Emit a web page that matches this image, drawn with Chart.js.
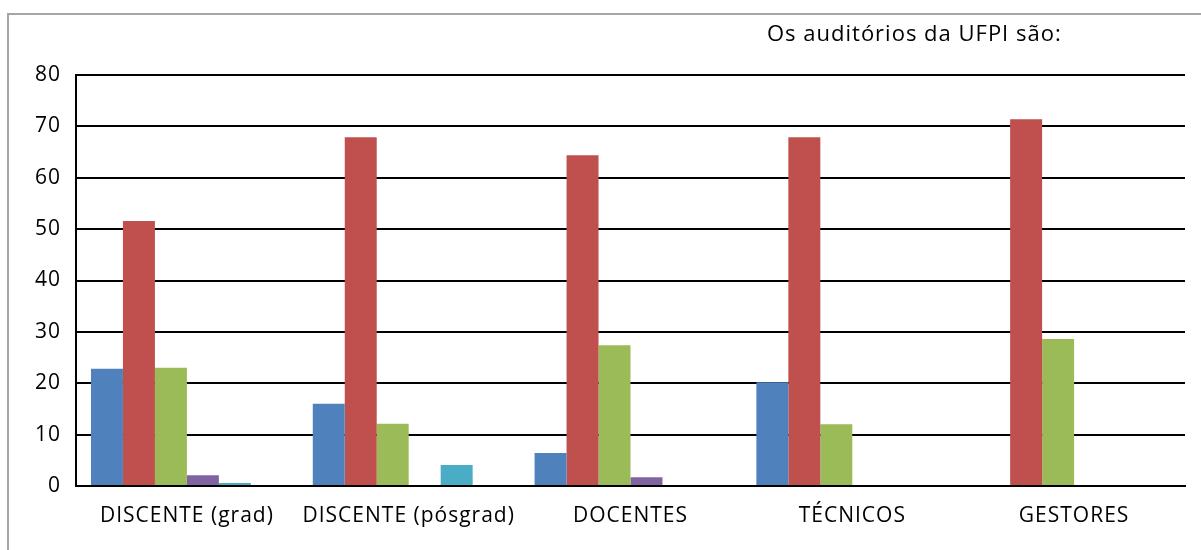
<!DOCTYPE html>
<html lang="pt">
<head>
<meta charset="utf-8">
<title>Os auditórios da UFPI são</title>
<style>
body { margin: 0; background: #fff; font-family: "Open Sans", sans-serif; }
.frame {
    position: absolute; left: 7px; top: 13px;
    width: 1220px; height: 560px;
    border: 2px solid #a6a6a6;
}
.titulo {
    position: absolute; left: 767px; top: 17px;
    font-size: 22px; letter-spacing: 1px; color: #000; white-space: nowrap;
}
#wrap { position: absolute; left: 0; top: 0; width: 1201px; height: 550px; }
</style>
</head>
<body>
<div class="frame"></div>
<div id="wrap"><canvas id="canvas"></canvas></div>
<div class="titulo">Os auditórios da UFPI são:</div>

<script src="https://cdn.jsdelivr.net/npm/chart.js"></script>
<script>
// grupos de respondentes
const categorias = ["DISCENTE (grad)", "DISCENTE (pósgrad)", "DOCENTES", "TÉCNICOS", "GESTORES"];

// percentuais por resposta (6 séries)
const serieAzul    = [22.8, 16.0, 6.4, 20.2, 0];
const serieVermelha = [51.6, 67.9, 64.4, 67.9, 71.4];
const serieVerde   = [23.0, 12.1, 27.4, 12.0, 28.6];
const serieRoxa    = [2.1, 0, 1.7, 0, 0];
const serieCiano   = [0.6, 4.1, 0, 0, 0];
const serieLaranja = [0.2, 0.2, 0.2, 0.2, 0.2];

const yTicks = [0, 10, 20, 30, 40, 50, 60, 70, 80];

const fonte = "'Open Sans', sans-serif";

// texto do canvas um pouco mais espaçado
const espacamento = {
    id: 'espacamento',
    beforeLayout: c => { c.ctx.letterSpacing = '1px'; },
    beforeDraw: c => { c.ctx.letterSpacing = '1px'; }
};

const ctx = document.getElementById('canvas').getContext("2d");
let grafico = new Chart(ctx, {
    type: 'bar',
    data: {
        labels: categorias,
        datasets: [
            { label: "1", data: serieAzul, backgroundColor: "#4f81bd" },
            { label: "2", data: serieVermelha, backgroundColor: "#c0504d" },
            { label: "3", data: serieVerde, backgroundColor: "#9bbb59" },
            { label: "4", data: serieRoxa, backgroundColor: "#8064a2" },
            { label: "5", data: serieCiano, backgroundColor: "#4bacc6" },
            { label: "6", data: serieLaranja, backgroundColor: "#8a4a1c" }
        ]
    },
    plugins: [espacamento],
    options: {
        responsive: true,
        maintainAspectRatio: false,
        animation: false,
        datasets: { bar: { barPercentage: 1, categoryPercentage: 0.865 } },
        layout: { padding: { left: 20, right: 16, top: 75, bottom: 14 } },
        plugins: { legend: { display: false }, tooltip: { enabled: false } },
        scales: {
            x: {
                grid: { display: false, drawTicks: false },
                border: { color: "#000", width: 2 },
                ticks: { color: "#000", font: { family: fonte, size: 21 }, padding: 17, maxRotation: 0 },
                afterFit: s => { s.height = 50; }
            },
            y: {
                min: 0, max: 80,
                afterBuildTicks: s => { s.ticks = yTicks.map(v => ({ value: v })); },
                grid: { color: "#000", lineWidth: 2, drawTicks: false },
                border: { color: "#000", width: 2 },
                ticks: { color: "#000", font: { family: fonte, size: 21 }, padding: 15 },
                afterFit: s => { s.width = 56; }
            }
        }
    }
});
</script>
</body>
</html>
